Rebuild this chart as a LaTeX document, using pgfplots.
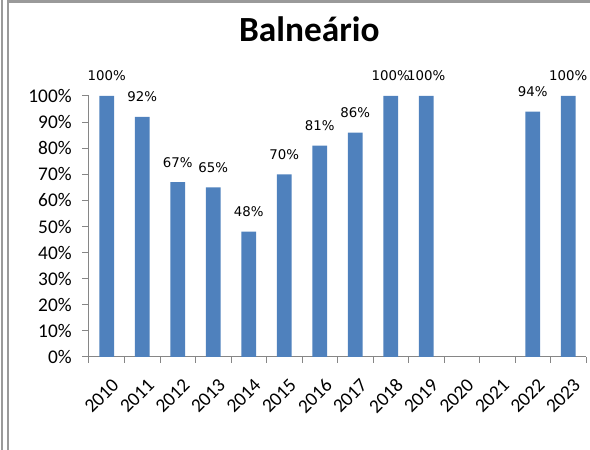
\documentclass[border=0pt]{standalone}
\usepackage{fontspec}
\setmainfont{Carlito}
\newfontfamily\dejavu{DejaVu Sans}
\usepackage{pgfplots}
\pgfplotsset{compat=1.18}
\pgfkeys{/pgf/number format/assume math mode=true}
\definecolor{barblue}{HTML}{4F81BD}
\definecolor{axgray}{HTML}{868686}
\definecolor{framegray}{HTML}{9A9A9A}
\begin{document}
\begin{tikzpicture}
\useasboundingbox (0,0) rectangle (442.5pt,337.5pt);
\fill[framegray] (0.4pt,0) rectangle (1.9pt,337.5pt);
\fill[framegray] (4.9pt,0) rectangle (6.4pt,337.5pt);
\fill[framegray] (4.9pt,335.6pt) rectangle (442.5pt,337.5pt);
\begin{axis}[
  scale only axis, width=372.75pt, height=195.75pt,
  at={(66.75pt,69.75pt)}, anchor=south west,
  xmin=-0.5, xmax=13.5, ymin=0, ymax=100,
  clip=false,
  axis x line*=bottom, axis y line*=left,
  axis line style={axgray, line width=0.75pt},
  ytick={0,10,...,100},
  yticklabel={\pgfmathprintnumber[assume math mode=true]{\tick}\%},
  xtick={0,...,13},
  xticklabels={2010,2011,2012,2013,2014,2015,2016,2017,2018,2019,2020,2021,2022,2023},
  minor xtick={-0.5,0.5,...,13.5},
  major x tick style={draw=none},
  tick style={axgray, line width=0.75pt},
  tick align=outside,
  major tick length=5pt, minor tick length=4.5pt,
  yticklabel style={font=\fontsize{14.5}{16}\selectfont, text=black, xshift=-4.5pt},
  xticklabel style={font=\fontsize{14.5}{16}\selectfont, text=black, rotate=45, anchor=north east, xshift=-1.5pt, yshift=-6pt},
  ybar, bar width=10.9pt,
  nodes near coords={\pgfmathprintnumber[fixed,precision=0,assume math mode=true]{\pgfplotspointmeta}\%},
  nodes near coords style={font=\dejavu\fontsize{10}{12}\selectfont, anchor=base, yshift=11.25pt, text=black},
]
\addplot[fill=barblue, draw=none] coordinates {
  (0,100) (1,92) (2,67) (3,65) (4,48) (5,70) (6,81) (7,86) (8,100) (9,100) (12,94) (13,100)
};
\end{axis}
\node[font=\bfseries\fontsize{26.5}{30}\selectfont, anchor=base] at (232pt,306pt) {Balneário};
\end{tikzpicture}
\end{document}
